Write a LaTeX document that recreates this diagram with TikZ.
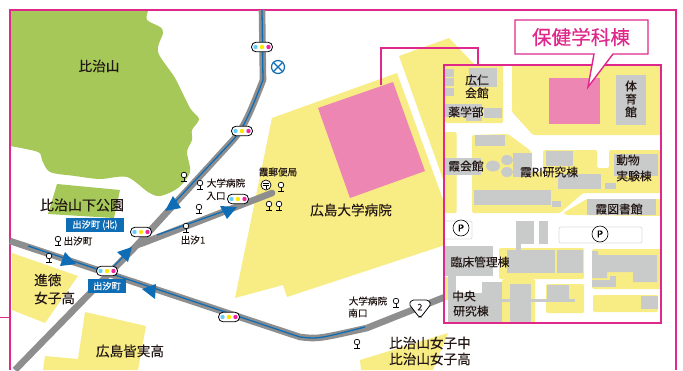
\documentclass[tikz,border=0pt]{standalone}
\usepackage{fontspec}
\setmainfont{Noto Sans CJK JP}[FakeBold=0.25]
\definecolor{pinkline}{HTML}{E0288C}
\definecolor{ymap}{HTML}{F8EC85}
\definecolor{gmap}{HTML}{A5C858}
\definecolor{hosp}{HTML}{EE86B4}
\definecolor{bldg}{HTML}{C9CACA}
\definecolor{roadg}{HTML}{8E8E8E}
\definecolor{bluel}{HTML}{0F6DB5}
\definecolor{txt}{HTML}{231815}
\tikzset{
  x=1pt,y=-1pt,
  frameline/.style={draw=pinkline,line width=1.4pt},
  yel/.style={fill=ymap,rounded corners=1.5pt},
  gry/.style={fill=bldg},
  roadline/.style={draw=roadg,line width=6.6pt,line join=round},
  blueline/.style={draw=bluel,line width=1.3pt,line join=round},
  tri/.style={fill=bluel},
  lab/.style={text=txt,inner sep=0pt,font=\fontsize{9.6}{10}\selectfont},
  labm/.style={text=txt,inner sep=0pt,font=\fontsize{11.8}{12}\selectfont},
  labl/.style={text=txt,inner sep=0pt,font=\fontsize{13.6}{14}\selectfont},
  bluebox/.style={fill=bluel,text=white,inner sep=0pt,font=\fontsize{9.2}{10}\selectfont},
  pill/.pic={
    \draw[fill=white,draw=black,line width=0.8pt,rounded corners=4.6pt] (-10.5,-4.8) rectangle (10.5,4.8);
    \fill[cyan!60!white] (-6.5,0) circle (2.2);
    \fill[yellow!90!orange] (0,0) circle (2.2);
    \fill[magenta!85!white] (6.5,0) circle (2.2);
  },
  pin/.pic={
    \draw[black,line width=0.7pt,fill=white] (0,0) circle (2.8);
    \draw[black,line width=0.7pt] (0,2.8) -- (0,6.8) (-2.8,6.8) -- (2.8,6.8);
  }
}
\begin{document}
\begin{tikzpicture}
\useasboundingbox (0,0) rectangle (683,370);
\clip (0,0) rectangle (683,370);
% green areas
\fill[gmap] (10,11) -- (148,11) -- plot[smooth,tension=0.5] coordinates {(148,11) (147,20) (160,27) (163,33) (158,52) (175,78) (190,108) (199,119) (192,130) (192,140) (187,152) (190,172) (178,188) (160,196) (148,192) (127,177) (100,179) (75,176) (50,172) (42,160) (38,152) (10,146)} -- cycle;
\fill[gmap] (57,184) -- (120,190) -- (114,218) -- (48,214) -- cycle;
% yellow areas
\fill[ymap] (12,253) -- (78,276) -- (45,323) -- (12,310) -- cycle;
\fill[ymap] (85,312) -- (146,326) -- (138,370) -- (43,370) -- (45,356) -- (78,359) -- cycle;
\fill[ymap] (272,118) -- (397,73) -- (445,205) -- (445,245) -- (287,297) -- (283,285) -- (235,298) -- cycle;
\fill[ymap] (399,56) -- (449,38) -- (475,65) -- (475,190) -- (444,182) -- cycle;
\fill[ymap] (448,333) -- (360,360) -- (361,370) -- (433,370) -- cycle;
\fill[hosp] (318,108) -- (393,82) -- (425,171) -- (350,198) -- cycle;
% frame
\fill[pinkline] (0,316.8) rectangle (10,318.2);
\draw[frameline] (10,370) -- (10,10) -- (676,10) -- (676,370);
\draw[frameline] (381,85) -- (381,48) -- (478,48) -- (478,66);
% roads
\coordinate (mainA) at (10,241);
\coordinate (mainB) at (300,337);
\coordinate (mainC) at (318,339);
\coordinate (mainD) at (367,328);
\coordinate (mainE) at (445,297);
\coordinate (diagA) at (15,370);
\coordinate (junc) at (137,245);
\coordinate (diagB) at (234,139);
\coordinate (diagC) at (263,80);
\coordinate (diagD) at (262,10);
\coordinate (branchE) at (272,193);
\draw[roadline] (mainA) -- (mainB) .. controls (mainC) and (mainC) .. (mainD) -- (mainE);
\draw[roadline] (diagA) -- (junc) -- (diagB) .. controls (245,126) and (252,108) .. (diagC) -- (diagD);
\draw[roadline,line cap=round] (junc) -- (143,243) -- (branchE);
\draw[blueline] (28,246) -- (mainB) .. controls (mainC) and (mainC) .. (365,327);
\draw[blueline] (113,267) -- (130,250);
\draw[blueline] (175,202) -- (diagB) .. controls (245,126) and (252,108) .. (diagC) -- (diagD);
\draw[blueline] (157,235) -- (233,208);
% arrowheads
\fill[tri] (173,196) -- (181,208) -- (165,211) -- cycle;
\fill[tri] (220,206) -- (237,207) -- (227,219) -- cycle;
\fill[tri] (132,247) -- (128,262) -- (117,252) -- cycle;
\fill[tri] (65,252) -- (76,264) -- (60,266) -- cycle;
\fill[tri] (156,284) -- (155,299) -- (142,289) -- cycle;
% stops
\foreach \p in {(107,271),(141,232),(229,317),(238,199),(242,131),(262,47)} \pic at \p {pill};
\foreach \p in {(184,175),(200,183),(199,207),(186,226),(49,256),(58,239),(281,185),(269,204),(279,204),(396,301),(357,342)} \pic at \p {pin};
% post office
\draw[black,line width=0.7pt,fill=white] (266,185) circle (5);
\draw[black,line width=0.6pt] (263,183) -- (269,183) (263,185) -- (269,185) (266,185) -- (266,188.5);
% X mark
\node[circle,draw=bluel,line width=1.2pt,fill=white,minimum size=13pt,inner sep=0pt] (xmark) at (278,67) {};
\draw[bluel,line width=1.2pt] (xmark.45) -- (xmark.225) (xmark.135) -- (xmark.315);
% route 2
\draw[black,line width=0.8pt,fill=white,rounded corners=1.5pt] (412,300) -- (428,300) -- (431,304) -- (421,317) -- (419,317) -- (409,304) -- cycle;
\node[lab,font=\fontsize{9}{9}\selectfont] (route) at (420,307) {2};
% map labels
\node[labl] (hijiyama) at (99,66) {比治山};
\node[labl,font=\fontsize{14}{14}\selectfont] (park) at (82,205) {比治山下公園};
\node[bluebox,minimum width=58pt,minimum height=14pt] (boxN) at (95,225) {出汐町 (北)};
\node[bluebox,minimum width=38pt,minimum height=14pt] (boxS) at (107,286) {出汐町};
\node[lab] (l1) at (78,241) {出汐町};
\node[labl,anchor=west] (s1) at (34,280) {進徳};
\node[labl,anchor=west] (s2) at (34,298) {女子高};
\node[labl] (minami) at (130,351) {広島皆実高};
\node[lab] (l2) at (193,240) {出汐1};
\node[lab] (l3) at (226,183) {大学病院};
\node[lab] (l4) at (216,196) {入口};
\node[lab] (l5) at (278,172) {霞郵便局};
\node[labl] (hospital) at (351,210) {広島大学病院};
\node[lab] (l6) at (368,301) {大学病院};
\node[lab] (l7) at (358,313) {南口};
\node[labl] (j1) at (430,343) {比治山女子中};
\node[labl] (j2) at (430,359) {比治山女子高};
% inset
\begin{scope}
\clip (444,65) rectangle (661,323);
\fill[white] (444,65) rectangle (661,323);
\fill[yel] (445,64) rectangle (503,123);
\fill[yel] (512,64) -- (512,112) -- (533,135) -- (662,135) -- (662,64) -- cycle;
\fill[yel] (444,132) rectangle (456.5,213);
\fill[yel] (472,135) -- (508,134) -- (531,151) -- (531,172) -- (543,172) -- (543,150) -- (597,150) -- (597,168) -- (609,168) -- (609,150) -- (662,150) -- (662,193) -- (583,193) -- (560,213) -- (472,213) -- cycle;
\fill[yel] (563,213) -- (587,199) -- (662,199) -- (662,216) -- (566,215) -- cycle;
\fill[yel] (499,248) rectangle (584,279);
\fill[yel] (502,279) rectangle (535,324);
\fill[yel] (546,284) rectangle (584,313);
\fill[yel] (592,249) rectangle (662,289);
\fill[yel] (593,295) rectangle (658,312);
\fill[ymap] (444,277) rectangle (452,300);
% buildings
\fill[gry] (445,69) rectangle (454,77);
\fill[gry] (445,78) rectangle (454,86);
\fill[gry] (445,88) rectangle (454,96);
\fill[gry] (469,68) rectangle (497,87);
\fill[gry] (445,104) rectangle (482,117);
\fill[gry] (466,117) rectangle (482,121);
\fill[gry] (484,108) rectangle (502,118);
\fill[gry] (616,75) rectangle (646,125);
\fill[hosp] (549,78) rectangle (600,124);
\fill[gry] (475,135) rectangle (505,146);
\fill[gry] (445,158) rectangle (481,175);
\fill[gry] (493,166) ellipse (7 and 5.5);
\fill[gry] (507,160) ellipse (6 and 5);
\fill[gry] (507,172) ellipse (6 and 5);
\fill[gry] (513,153) rectangle (532,177);
\fill[gry] (546,151) rectangle (573,166);
\fill[gry] (558,174) rectangle (601,189);
\fill[gry] (605,183) rectangle (616,189);
\fill[gry] (614,154) rectangle (658,176);
\fill[gry] (474,190) rectangle (551,205);
\fill[gry] (552,201) rectangle (561,207);
\fill[gry] (587,199) rectangle (656,215);
\fill[gry] (516,221) rectangle (534,244);
\fill[gry] (539,221) rectangle (548,244);
\fill[gry] (516,243) rectangle (521,250);
\fill[gry] (507,250) rectangle (555,273);
\fill[gry] (557,250) rectangle (583,273);
\fill[gry] (445,246) rectangle (493,276);
\fill[gry] (448,276) rectangle (456,293);
\fill[gry] (448,293) rectangle (502,324);
\fill[gry] (482,282) rectangle (502,293);
\fill[gry] (510,284) rectangle (531,324);
\fill[gry] (502,299) rectangle (510,302);
\fill[gry] (531,299) rectangle (575,302);
\fill[gry] (547,285) rectangle (569,299);
\fill[gry] (592,251) -- (598,251) -- (598,255) -- (657,255) -- (657,282) -- (633,282) -- (633,272) -- (607,272) -- (607,278) -- (592,278) -- cycle;
\fill[gry] (592,280) rectangle (616,287);
\fill[gry] (610,276) rectangle (616,280);
\fill[gry] (641,296) rectangle (658,309);
% parking
\draw[bldg!60!white,line width=0.8pt,fill=white,rounded corners=2pt] (440,221) rectangle (472,239);
\draw[bldg!60!white,line width=0.8pt,fill=white,rounded corners=2pt] (559,227) rectangle (642,243);
\node[circle,draw=black,line width=0.6pt,fill=white,minimum size=16pt,inner sep=0pt,font=\fontsize{9.5}{10}\selectfont] (p1) at (461,228) {P};
\node[circle,draw=black,line width=0.6pt,fill=white,minimum size=16pt,inner sep=0pt,font=\fontsize{9.5}{10}\selectfont] (p2) at (600,234) {P};
\end{scope}
\draw[frameline] (444,65) rectangle (661,323);
% inset labels
\node[labm] (a1) at (477,80) {広仁};
\node[labm] (a2) at (477,93) {会館};
\node[labm] (a3) at (466,112) {薬学部};
\node[labm] (a4) at (631,86) {体};
\node[labm] (a5) at (631,99) {育};
\node[labm] (a6) at (631,112) {館};
\node[labm] (a7) at (466,166) {霞会館};
\node[labm] (a8) at (549,172) {霞RI研究棟};
\node[labm] (a9) at (628,160) {動物};
\node[labm] (a10) at (634,176) {実験棟};
\node[labm] (a11) at (619,209) {霞図書館};
\node[labm] (a12) at (480,262) {臨床管理棟};
\node[labm] (a13) at (464,296) {中央};
\node[labm] (a14) at (471,311) {研究棟};
% callout
\draw[frameline,fill=white] (515,20) -- (648,20) -- (648,54) -- (613,54) -- (588,87) -- (594,54) -- (515,54) -- cycle;
\node[text=pinkline,inner sep=0pt,font=\fontsize{19.6}{20}\selectfont] (callout) at (581,37) {保健学科棟};
\end{tikzpicture}
\end{document}
